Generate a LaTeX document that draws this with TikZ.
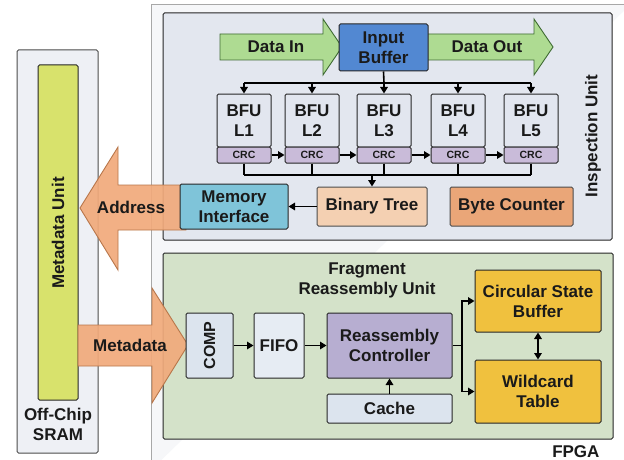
\documentclass[tikz,border=0pt]{standalone}
\usepackage{fontspec}
\setmainfont{Liberation Sans}
\usetikzlibrary{arrows.meta}
\definecolor{fpgafill}{HTML}{F6F7F9}
\definecolor{fpgaline}{HTML}{A8A8A8}
\definecolor{inspfill}{HTML}{E3E7EF}
\definecolor{fragfill}{HTML}{D4E2C9}
\definecolor{bufblue}{HTML}{5288D2}
\definecolor{greenarr}{HTML}{AEDB92}
\definecolor{greenline}{HTML}{3F6B33}
\definecolor{bfufill}{HTML}{E2E6EF}
\definecolor{crcfill}{HTML}{C9BBD9}
\definecolor{treefill}{HTML}{F4D0B2}
\definecolor{bytefill}{HTML}{EAA678}
\definecolor{memfill}{HTML}{7FC4D9}
\definecolor{orangearr}{HTML}{F1AA7B}
\definecolor{orangeline}{HTML}{B8764A}
\definecolor{sramfill}{HTML}{EEF0F5}
\definecolor{metafill}{HTML}{D8E26C}
\definecolor{lightbox}{HTML}{DCE4EE}
\definecolor{rcfill}{HTML}{B7AED1}
\definecolor{goldfill}{HTML}{F0C13E}
\definecolor{txt}{HTML}{1A1A1A}
\begin{document}
\begin{tikzpicture}[x=1pt,y=-1pt,
  font=\bfseries\fontsize{17}{20}\selectfont, text=txt,
  box/.style={draw=black!85, line width=1pt, rounded corners=1.5pt, align=center, inner sep=0pt},
  bigarrow/.style={line width=0.9pt, line join=miter},
  wire/.style={line width=1.6pt, draw=black},
  conn/.style={wire, -{Triangle[length=6.5pt,width=7.5pt]}},
  dconn/.style={wire, {Triangle[length=6.5pt,width=7.5pt]}-{Triangle[length=6.5pt,width=7.5pt]}},
  crcfont/.style={font=\bfseries\fontsize{10.5}{11}\selectfont}
]
\useasboundingbox (0,0) rectangle (624,460);
\fill[white] (0,0) rectangle (624,460);

% FPGA region
\filldraw[fill=fpgafill, draw=fpgaline, line width=1pt] (630,5) -- (151,5) -- (151,470);
\node[anchor=south east] (fpga) at (603,461) {FPGA};

% Inspection unit
\node[box, fill=inspfill, minimum width=449pt, minimum height=227pt] (insp) at (387.5,126.5) {};
\node[rotate=90] (insplab) at (593,136) {Inspection Unit};

% Fragment reassembly unit
\node[box, fill=fragfill, minimum width=450pt, minimum height=186pt] (frag) at (388,346) {};
\node[align=center] (fraglab) at (367,280) {Fragment\\Reassembly Unit};

% Off-chip SRAM
\node[box, draw=black!70, fill=sramfill, minimum width=81pt, minimum height=403pt] (sram) at (57.5,251.5) {};
\node[box, fill=metafill, minimum width=40pt, minimum height=335pt] (meta) at (58,232.5) {};
\node[rotate=90] (metalab) at (58,233) {Metadata Unit};
\node[align=center] (sramlab) at (58,424) {Off-Chip\\SRAM};

% Green arrows
\filldraw[bigarrow, fill=greenarr, draw=greenline]
  (220,34) -- (323,34) -- (323,19) -- (342,47) -- (323,75) -- (323,60) -- (220,60) -- cycle;
\node (din) at (276,47) {Data In};
\filldraw[bigarrow, fill=greenarr, draw=greenline]
  (426,34) -- (534,34) -- (534,19) -- (553,47) -- (534,75) -- (534,60) -- (426,60) -- cycle;
\node (dout) at (487,47) {Data Out};

% Input buffer
\node[box, fill=bufblue, minimum width=89pt, minimum height=47pt] (ib) at (383.5,47.5) {Input\\Buffer};

% BFUs
\foreach \i/\x in {1/244,2/312,3/384,4/458,5/531}{
  \node[box, fill=bfufill, minimum width=54pt, minimum height=53pt] (b\i) at (\x,120.5) {BFU\\L\i};
  \node[box, fill=crcfill, minimum width=54pt, minimum height=16pt, crcfont] (c\i) at (\x,155) {CRC};
}

\coordinate (split) at (384,83);
\draw[wire] (ib.south) -- (split);
\draw[wire] (split -| b1.north) -- (split -| b5.north);
\foreach \i in {1,...,5}{ \draw[conn] (split -| b\i.north) -- (b\i.north); }
\foreach \i/\j in {1/2,2/3,3/4,4/5}{ \draw[conn] (c\i.east) -- (c\j.west); }

% lower units
\node[box, draw=black!70, fill=treefill, minimum width=110pt, minimum height=39pt] (bt) at (372,206.5) {Binary Tree};
\node[box, draw=black!70, fill=bytefill, minimum width=123pt, minimum height=39pt] (bc) at (511.5,206.5) {Byte Counter};

\coordinate (join) at (372,175);
\foreach \i in {1,...,5}{ \draw[wire] (c\i.south) -- (c\i.south |- join); }
\draw[wire] (c1.south |- join) -- (c5.south |- join);
\draw[conn] (join) -- (bt.north);

% Address arrow
\filldraw[bigarrow, fill=orangearr, draw=orangeline, fill opacity=0.92]
  (186,185) -- (118,185) -- (118,147) -- (80,208) -- (118,270) -- (118,230) -- (186,230) -- cycle;
\node (addr) at (131,207) {Address};

\node[box, fill=memfill, minimum width=108pt, minimum height=45pt] (mi) at (234,206.5) {Memory\\Interface};
\draw[conn] (bt.west) -- (mi.east);

% Metadata arrow
\filldraw[bigarrow, fill=orangearr, draw=orangeline, fill opacity=0.92]
  (78,325) -- (152,325) -- (152,288) -- (188,345) -- (152,403) -- (152,366) -- (78,366) -- cycle;
\node (mdat) at (130,345) {Metadata};

% Fragment reassembly blocks
\node[box, fill=lightbox, minimum width=47pt, minimum height=65pt] (comp) at (209.5,345.5) {};
\node[rotate=90, font=\bfseries\fontsize{16}{18}\selectfont] (complab) at (209.5,345.5) {COMP};
\node[box, fill=lightbox!70!white, minimum width=50pt, minimum height=65pt] (fifo) at (279,345.5) {FIFO};
\node[box, fill=rcfill, minimum width=125pt, minimum height=65pt] (rc) at (389.5,345.5) {Reassembly\\Controller};
\node[box, fill=lightbox, minimum width=125pt, minimum height=29pt] (cache) at (389.5,408.5) {Cache};
\node[box, fill=goldfill, minimum width=126pt, minimum height=62pt] (csb) at (538,301) {Circular State\\Buffer};
\node[box, fill=goldfill, minimum width=126pt, minimum height=63pt] (wt) at (538,391.5) {Wildcard\\Table};

\draw[conn] (comp.east) -- (fifo.west);
\draw[conn] (fifo.east) -- (rc.west);
\draw[conn] (cache.north) -- (rc.south);
\coordinate (fork) at (462,345.5);
\draw[wire] (rc.east) -- (fork);
\draw[conn] (fork) |- (csb.west);
\draw[conn] (fork) |- (wt.west);
\draw[dconn] (csb.south) -- (wt.north);
\end{tikzpicture}
\end{document}
